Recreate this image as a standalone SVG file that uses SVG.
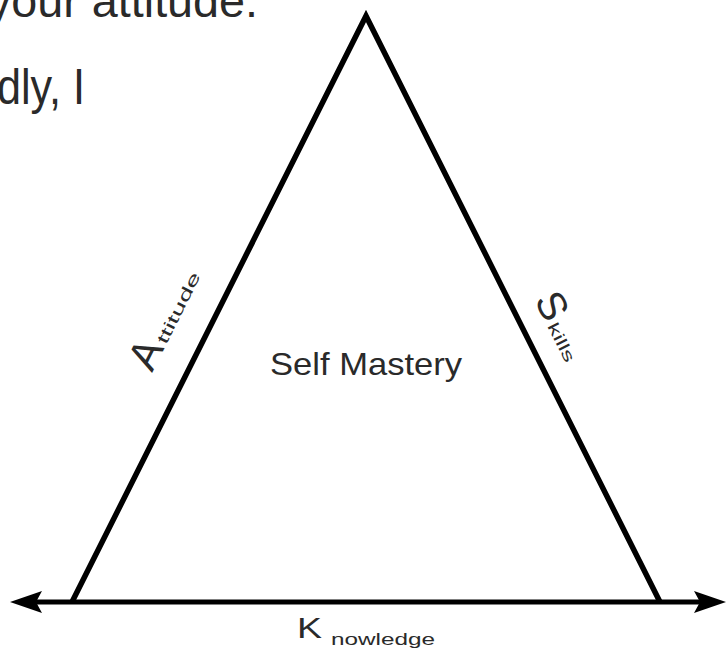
<svg xmlns="http://www.w3.org/2000/svg" width="728" height="656" viewBox="0 0 728 656">
  <style>
    .txt { font-family: "Liberation Sans", "DejaVu Sans", sans-serif; fill: #2a2a2a; }
    .edge { fill: none; stroke: #000; stroke-width: 5.5; stroke-linejoin: miter; stroke-miterlimit: 10; }
    .axis { fill: none; stroke: #000; stroke-width: 5; }
  </style>
  <defs>
    <marker id="arrow" viewBox="-14 -12 36 24" refX="0" refY="0" markerWidth="36" markerHeight="24" markerUnits="userSpaceOnUse" orient="auto-start-reverse">
      <path d="M20,0 L-12,-11 L-6,0 L-12,11 Z" fill="#000"/>
    </marker>
  </defs>
  <rect width="728" height="656" fill="#fff"/>

  <g id="caption-text">
    <text class="txt" x="-12" y="17" font-size="46" textLength="270" lengthAdjust="spacingAndGlyphs">your attitude.</text>
    <text class="txt" x="-3" y="104" font-size="50" textLength="88" lengthAdjust="spacingAndGlyphs">dly, I</text>
  </g>

  <g id="triangle">
    <polyline class="edge" points="72,602 366,16 660,602"/>
  </g>

  <g id="connectors">
    <line class="axis" x1="30" y1="602" x2="706" y2="602" marker-start="url(#arrow)" marker-end="url(#arrow)"/>
  </g>

  <g id="label-self-mastery">
    <text class="txt" x="270" y="375" font-size="32" textLength="192" lengthAdjust="spacingAndGlyphs">Self Mastery</text>
  </g>

  <g id="label-attitude" transform="translate(152,373) rotate(-63.3)">
    <text class="txt" x="0" y="0" font-size="42">A</text>
    <text class="txt" x="31" y="0" font-size="16" textLength="78" lengthAdjust="spacingAndGlyphs">ttitude</text>
  </g>

  <g id="label-skills" transform="translate(534,300) rotate(63.3)">
    <text class="txt" x="0" y="0" font-size="40">S</text>
    <text class="txt" x="29" y="0" font-size="16" textLength="42" lengthAdjust="spacingAndGlyphs">kills</text>
  </g>

  <g id="label-knowledge">
    <text class="txt" x="297" y="638" font-size="30" textLength="25" lengthAdjust="spacingAndGlyphs">K</text>
    <text class="txt" x="331" y="645" font-size="17" textLength="104" lengthAdjust="spacingAndGlyphs">nowledge</text>
  </g>
</svg>
